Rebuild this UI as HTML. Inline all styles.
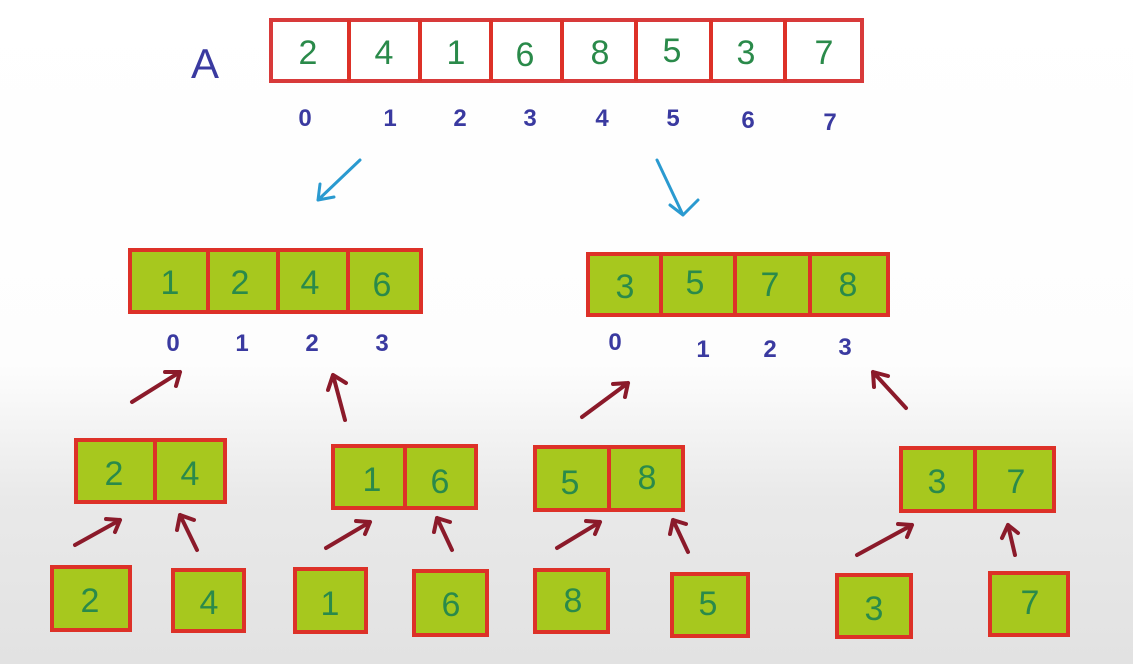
<!DOCTYPE html>
<html><head><meta charset="utf-8"><style>
html,body{margin:0;padding:0;}
body{width:1133px;height:664px;overflow:hidden;background:linear-gradient(#ffffff 0%,#fdfdfd 55%,#e9e9e9 75%,#e2e2e2 100%);}
svg{display:block;}
.g{fill:#2a8a4a;font-family:"Liberation Sans",sans-serif;font-size:34px;text-anchor:middle;}
.b{fill:#3a3aa0;font-family:"Liberation Sans",sans-serif;font-size:24px;font-weight:bold;text-anchor:middle;}
.c{fill:#a7c81e;stroke:#dd3128;stroke-width:4;}
.w{fill:#fff;stroke:#d83a3a;stroke-width:4;}
.l{stroke:#dd3128;stroke-width:4;}
.ar{stroke:#8b1a2a;stroke-width:4;fill:none;stroke-linecap:round;stroke-linejoin:round;}
.ab{stroke:#2a9ad0;stroke-width:3;fill:none;stroke-linecap:round;stroke-linejoin:round;}
</style></head><body>
<svg width="1133" height="664" viewBox="0 0 1133 664">
<text x="205" y="78" style="fill:#3a3aa0;font-family:'Liberation Sans',sans-serif;font-size:42px;" text-anchor="middle">A</text>
<rect class="w" x="271" y="20" width="591" height="61"/>
<g class="l"><line x1="349" y1="20" x2="349" y2="81"/><line x1="420" y1="20" x2="420" y2="81"/><line x1="491" y1="20" x2="491" y2="81"/><line x1="562" y1="20" x2="562" y2="81"/><line x1="636" y1="20" x2="636" y2="81"/><line x1="711" y1="20" x2="711" y2="81"/><line x1="785" y1="20" x2="785" y2="81"/></g>
<g class="g"><text x="308" y="64">2</text><text x="384" y="64">4</text><text x="456" y="64">1</text><text x="525" y="66">6</text><text x="600" y="64">8</text><text x="672" y="62">5</text><text x="746" y="64">3</text><text x="824" y="64">7</text></g>
<g class="b"><text x="305" y="126">0</text><text x="390" y="126">1</text><text x="460" y="126">2</text><text x="530" y="126">3</text><text x="602" y="126">4</text><text x="673" y="126">5</text><text x="748" y="128">6</text><text x="830" y="130">7</text></g>
<path class="ab" d="M360 160 L318 200 M318 200 L320 184 M318 200 L334 197"/>
<path class="ab" d="M657 160 L683 215 M683 215 L670 205 M683 215 L698 200"/>

<rect class="c" x="130" y="250" width="291" height="62"/>
<g class="l"><line x1="208" y1="250" x2="208" y2="312"/><line x1="278" y1="250" x2="278" y2="312"/><line x1="348" y1="250" x2="348" y2="312"/></g>
<g class="g"><text x="170" y="294">1</text><text x="240" y="294">2</text><text x="310" y="294">4</text><text x="382" y="296">6</text></g>
<g class="b"><text x="173" y="351">0</text><text x="242" y="351">1</text><text x="312" y="351">2</text><text x="382" y="351">3</text></g>

<rect class="c" x="588" y="254" width="300" height="61"/>
<g class="l"><line x1="661" y1="254" x2="661" y2="315"/><line x1="735" y1="254" x2="735" y2="315"/><line x1="810" y1="254" x2="810" y2="315"/></g>
<g class="g"><text x="625" y="298">3</text><text x="695" y="294">5</text><text x="770" y="296">7</text><text x="848" y="296">8</text></g>
<g class="b"><text x="615" y="350">0</text><text x="703" y="357">1</text><text x="770" y="357">2</text><text x="845" y="355">3</text></g>

<path class="ar" d="M132 402 L180 372 M180 372 L165 372 M180 372 L176 386"/>
<path class="ar" d="M345 420 L333 375 M333 375 L328 390 M333 375 L346 383"/>
<path class="ar" d="M582 417 L628 383 M628 383 L613 384 M628 383 L625 397"/>
<path class="ar" d="M906 408 L873 372 M873 372 L874 387 M873 372 L888 376"/>

<rect class="c" x="76" y="440" width="149" height="62"/><line class="l" x1="155" y1="440" x2="155" y2="502"/>
<text class="g" x="114" y="485">2</text><text class="g" x="190" y="485">4</text>
<rect class="c" x="333" y="446" width="143" height="62"/><line class="l" x1="405" y1="446" x2="405" y2="508"/>
<text class="g" x="372" y="491">1</text><text class="g" x="440" y="493">6</text>
<rect class="c" x="535" y="447" width="148" height="63"/><line class="l" x1="609" y1="447" x2="609" y2="510"/>
<text class="g" x="570" y="494">5</text><text class="g" x="647" y="489">8</text>
<rect class="c" x="901" y="448" width="153" height="63"/><line class="l" x1="975" y1="448" x2="975" y2="511"/>
<text class="g" x="937" y="493">3</text><text class="g" x="1016" y="493">7</text>

<path class="ar" d="M75 545 L120 520 M120 520 L106 519 M120 520 L115 532"/>
<path class="ar" d="M197 550 L180 515 M180 515 L177 530 M180 515 L194 520"/>
<path class="ar" d="M326 548 L370 522 M370 522 L356 521 M370 522 L365 534"/>
<path class="ar" d="M452 550 L437 518 M437 518 L434 532 M437 518 L450 522"/>
<path class="ar" d="M557 548 L600 522 M600 522 L586 521 M600 522 L595 534"/>
<path class="ar" d="M688 552 L673 520 M673 520 L670 534 M673 520 L686 524"/>
<path class="ar" d="M857 555 L912 525 M912 525 L898 524 M912 525 L907 537"/>
<path class="ar" d="M1015 555 L1008 525 M1008 525 L1002 538 M1008 525 L1018 533"/>

<rect class="c" x="52" y="567" width="78" height="63"/><text class="g" x="90" y="612">2</text>
<rect class="c" x="173" y="570" width="71" height="61"/><text class="g" x="209" y="614">4</text>
<rect class="c" x="295" y="569" width="71" height="63"/><text class="g" x="330" y="615">1</text>
<rect class="c" x="414" y="571" width="73" height="64"/><text class="g" x="451" y="616">6</text>
<rect class="c" x="535" y="570" width="73" height="62"/><text class="g" x="573" y="612">8</text>
<rect class="c" x="672" y="574" width="76" height="62"/><text class="g" x="708" y="615">5</text>
<rect class="c" x="837" y="575" width="74" height="62"/><text class="g" x="874" y="620">3</text>
<rect class="c" x="990" y="573" width="78" height="62"/><text class="g" x="1030" y="614">7</text>
</svg>
</body></html>
